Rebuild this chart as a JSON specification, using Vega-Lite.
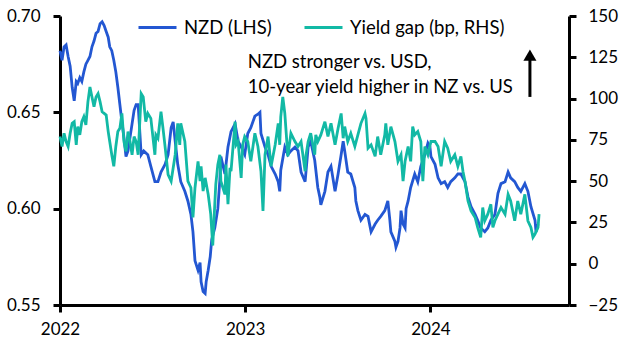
{
"$schema": "https://vega.github.io/schema/vega-lite/v6.json",
"width": 509, "height": 289,
"autosize": {"type": "none"},
"padding": {"left": 60, "top": 16, "right": 59, "bottom": 50},
"background": "white",
"config": {
  "view": {"stroke": null},
  "font": "Lato",
  "axis": {"grid": false, "domainColor": "black", "domainWidth": 3, "tickColor": "black", "tickWidth": 3, "tickSize": 7, "labelFontSize": 17, "labelColor": "black", "labelFont": "Lato", "title": null}
},
"datasets": {
"nzd": [
{"date":"2022-01-01","value":0.682},{"date":"2022-01-05","value":0.677},{"date":"2022-01-09","value":0.684},{"date":"2022-01-13","value":0.685},{"date":"2022-01-17","value":0.679},{"date":"2022-01-21","value":0.674},{"date":"2022-01-25","value":0.663},{"date":"2022-01-29","value":0.656},{"date":"2022-02-02","value":0.666},{"date":"2022-02-05","value":0.665},{"date":"2022-02-09","value":0.668},{"date":"2022-02-13","value":0.666},{"date":"2022-02-17","value":0.671},{"date":"2022-02-21","value":0.675},{"date":"2022-02-25","value":0.677},{"date":"2022-03-01","value":0.679},{"date":"2022-03-05","value":0.684},{"date":"2022-03-09","value":0.687},{"date":"2022-03-13","value":0.691},{"date":"2022-03-17","value":0.692},{"date":"2022-03-21","value":0.696},{"date":"2022-03-25","value":0.697},{"date":"2022-03-29","value":0.695},{"date":"2022-04-02","value":0.692},{"date":"2022-04-06","value":0.689},{"date":"2022-04-09","value":0.684},{"date":"2022-04-13","value":0.682},{"date":"2022-04-17","value":0.677},{"date":"2022-04-21","value":0.671},{"date":"2022-04-25","value":0.663},{"date":"2022-04-29","value":0.654},{"date":"2022-05-03","value":0.645},{"date":"2022-05-07","value":0.637},{"date":"2022-05-11","value":0.627},{"date":"2022-05-15","value":0.630},{"date":"2022-05-19","value":0.637},{"date":"2022-05-23","value":0.644},{"date":"2022-05-27","value":0.651},{"date":"2022-05-31","value":0.654},{"date":"2022-06-04","value":0.654},{"date":"2022-06-10","value":0.628},{"date":"2022-06-15","value":0.630},{"date":"2022-06-23","value":0.628},{"date":"2022-06-29","value":0.622},{"date":"2022-07-07","value":0.614},{"date":"2022-07-13","value":0.614},{"date":"2022-07-19","value":0.619},{"date":"2022-07-27","value":0.623},{"date":"2022-08-02","value":0.628},{"date":"2022-08-08","value":0.642},{"date":"2022-08-12","value":0.645},{"date":"2022-08-16","value":0.635},{"date":"2022-08-21","value":0.623},{"date":"2022-08-27","value":0.614},{"date":"2022-09-04","value":0.609},{"date":"2022-09-10","value":0.604},{"date":"2022-09-16","value":0.597},{"date":"2022-09-20","value":0.588},{"date":"2022-09-24","value":0.573},{"date":"2022-09-30","value":0.568},{"date":"2022-10-04","value":0.572},{"date":"2022-10-06","value":0.562},{"date":"2022-10-10","value":0.557},{"date":"2022-10-14","value":0.556},{"date":"2022-10-16","value":0.562},{"date":"2022-10-20","value":0.568},{"date":"2022-10-24","value":0.575},{"date":"2022-10-27","value":0.584},{"date":"2022-11-02","value":0.590},{"date":"2022-11-08","value":0.600},{"date":"2022-11-12","value":0.615},{"date":"2022-11-14","value":0.627},{"date":"2022-11-22","value":0.618},{"date":"2022-11-28","value":0.632},{"date":"2022-12-04","value":0.640},{"date":"2022-12-12","value":0.644},{"date":"2022-12-18","value":0.635},{"date":"2022-12-24","value":0.632},{"date":"2022-12-31","value":0.628},
{"date":"2023-01-06","value":0.639},{"date":"2023-01-12","value":0.642},{"date":"2023-01-20","value":0.648},{"date":"2023-01-26","value":0.649},{"date":"2023-01-30","value":0.650},{"date":"2023-02-01","value":0.639},{"date":"2023-02-09","value":0.632},{"date":"2023-02-15","value":0.628},{"date":"2023-02-21","value":0.622},{"date":"2023-03-01","value":0.618},{"date":"2023-03-07","value":0.614},{"date":"2023-03-10","value":0.609},{"date":"2023-03-12","value":0.620},{"date":"2023-03-20","value":0.632},{"date":"2023-03-26","value":0.628},{"date":"2023-04-01","value":0.630},{"date":"2023-04-09","value":0.632},{"date":"2023-04-15","value":0.630},{"date":"2023-04-21","value":0.619},{"date":"2023-04-29","value":0.614},{"date":"2023-05-05","value":0.632},{"date":"2023-05-10","value":0.635},{"date":"2023-05-18","value":0.625},{"date":"2023-05-24","value":0.611},{"date":"2023-05-28","value":0.606},{"date":"2023-05-30","value":0.602},{"date":"2023-06-07","value":0.609},{"date":"2023-06-13","value":0.619},{"date":"2023-06-19","value":0.622},{"date":"2023-06-27","value":0.609},{"date":"2023-07-03","value":0.618},{"date":"2023-07-09","value":0.628},{"date":"2023-07-13","value":0.635},{"date":"2023-07-16","value":0.630},{"date":"2023-07-22","value":0.619},{"date":"2023-07-28","value":0.618},{"date":"2023-08-05","value":0.611},{"date":"2023-08-07","value":0.604},{"date":"2023-08-11","value":0.599},{"date":"2023-08-17","value":0.594},{"date":"2023-08-25","value":0.597},{"date":"2023-08-31","value":0.596},{"date":"2023-09-06","value":0.588},{"date":"2023-09-14","value":0.592},{"date":"2023-09-19","value":0.594},{"date":"2023-09-25","value":0.596},{"date":"2023-10-03","value":0.599},{"date":"2023-10-09","value":0.604},{"date":"2023-10-13","value":0.594},{"date":"2023-10-15","value":0.588},{"date":"2023-10-23","value":0.583},{"date":"2023-10-25","value":0.580},{"date":"2023-10-29","value":0.583},{"date":"2023-11-02","value":0.590},{"date":"2023-11-04","value":0.599},{"date":"2023-11-08","value":0.592},{"date":"2023-11-12","value":0.590},{"date":"2023-11-14","value":0.600},{"date":"2023-11-18","value":0.604},{"date":"2023-11-23","value":0.611},{"date":"2023-12-01","value":0.618},{"date":"2023-12-07","value":0.614},{"date":"2023-12-13","value":0.622},{"date":"2023-12-21","value":0.628},{"date":"2023-12-27","value":0.634},{"date":"2023-12-31","value":0.632},
{"date":"2024-01-02","value":0.627},{"date":"2024-01-10","value":0.623},{"date":"2024-01-16","value":0.616},{"date":"2024-01-22","value":0.613},{"date":"2024-01-29","value":0.614},{"date":"2024-02-04","value":0.611},{"date":"2024-02-10","value":0.614},{"date":"2024-02-18","value":0.616},{"date":"2024-02-24","value":0.618},{"date":"2024-03-01","value":0.618},{"date":"2024-03-09","value":0.614},{"date":"2024-03-15","value":0.606},{"date":"2024-03-21","value":0.601},{"date":"2024-03-29","value":0.597},{"date":"2024-04-03","value":0.594},{"date":"2024-04-09","value":0.590},{"date":"2024-04-17","value":0.588},{"date":"2024-04-23","value":0.590},{"date":"2024-04-29","value":0.594},{"date":"2024-05-07","value":0.597},{"date":"2024-05-13","value":0.608},{"date":"2024-05-19","value":0.613},{"date":"2024-05-27","value":0.614},{"date":"2024-06-02","value":0.619},{"date":"2024-06-07","value":0.616},{"date":"2024-06-15","value":0.614},{"date":"2024-06-21","value":0.611},{"date":"2024-06-27","value":0.609},{"date":"2024-07-05","value":0.613},{"date":"2024-07-11","value":0.609},{"date":"2024-07-17","value":0.601},{"date":"2024-07-25","value":0.594},{"date":"2024-07-27","value":0.588},{"date":"2024-07-31","value":0.592}
],
"gap": [
{"date":"2022-01-01","value":77},{"date":"2022-01-05","value":71},{"date":"2022-01-09","value":79},{"date":"2022-01-13","value":74},{"date":"2022-01-17","value":71},{"date":"2022-01-21","value":79},{"date":"2022-01-25","value":85},{"date":"2022-01-29","value":86},{"date":"2022-02-02","value":72},{"date":"2022-02-05","value":83},{"date":"2022-02-09","value":78},{"date":"2022-02-13","value":86},{"date":"2022-02-17","value":89},{"date":"2022-02-21","value":84},{"date":"2022-02-25","value":98},{"date":"2022-03-01","value":107},{"date":"2022-03-05","value":101},{"date":"2022-03-09","value":95},{"date":"2022-03-13","value":101},{"date":"2022-03-17","value":103},{"date":"2022-03-21","value":98},{"date":"2022-03-25","value":92},{"date":"2022-03-29","value":91},{"date":"2022-04-02","value":90},{"date":"2022-04-06","value":80},{"date":"2022-04-09","value":74},{"date":"2022-04-13","value":66},{"date":"2022-04-17","value":59},{"date":"2022-04-21","value":71},{"date":"2022-04-25","value":80},{"date":"2022-04-29","value":82},{"date":"2022-05-03","value":91},{"date":"2022-05-07","value":74},{"date":"2022-05-11","value":68},{"date":"2022-05-15","value":80},{"date":"2022-05-19","value":74},{"date":"2022-05-23","value":66},{"date":"2022-05-27","value":77},{"date":"2022-05-31","value":74},{"date":"2022-06-04","value":66},{"date":"2022-06-10","value":103},{"date":"2022-06-14","value":101},{"date":"2022-06-15","value":98},{"date":"2022-06-19","value":86},{"date":"2022-06-23","value":91},{"date":"2022-06-29","value":88},{"date":"2022-07-07","value":66},{"date":"2022-07-09","value":78},{"date":"2022-07-13","value":76},{"date":"2022-07-19","value":92},{"date":"2022-07-23","value":82},{"date":"2022-07-27","value":71},{"date":"2022-08-02","value":54},{"date":"2022-08-08","value":50},{"date":"2022-08-16","value":66},{"date":"2022-08-21","value":85},{"date":"2022-08-25","value":72},{"date":"2022-08-27","value":85},{"date":"2022-09-04","value":74},{"date":"2022-09-10","value":50},{"date":"2022-09-16","value":46},{"date":"2022-09-20","value":28},{"date":"2022-09-24","value":46},{"date":"2022-09-30","value":62},{"date":"2022-10-04","value":50},{"date":"2022-10-06","value":59},{"date":"2022-10-10","value":44},{"date":"2022-10-14","value":52},{"date":"2022-10-20","value":42},{"date":"2022-10-25","value":30},{"date":"2022-10-29","value":11},{"date":"2022-11-02","value":36},{"date":"2022-11-04","value":48},{"date":"2022-11-08","value":60},{"date":"2022-11-12","value":66},{"date":"2022-11-14","value":50},{"date":"2022-11-22","value":42},{"date":"2022-11-24","value":60},{"date":"2022-11-28","value":36},{"date":"2022-12-02","value":58},{"date":"2022-12-04","value":56},{"date":"2022-12-12","value":86},{"date":"2022-12-14","value":72},{"date":"2022-12-18","value":74},{"date":"2022-12-24","value":52},{"date":"2022-12-27","value":72},{"date":"2022-12-31","value":77},
{"date":"2023-01-06","value":74},{"date":"2023-01-12","value":62},{"date":"2023-01-20","value":79},{"date":"2023-01-26","value":71},{"date":"2023-02-01","value":56},{"date":"2023-02-05","value":32},{"date":"2023-02-09","value":66},{"date":"2023-02-15","value":77},{"date":"2023-02-21","value":59},{"date":"2023-03-01","value":72},{"date":"2023-03-07","value":85},{"date":"2023-03-10","value":72},{"date":"2023-03-12","value":89},{"date":"2023-03-16","value":101},{"date":"2023-03-20","value":91},{"date":"2023-03-26","value":65},{"date":"2023-04-01","value":79},{"date":"2023-04-09","value":74},{"date":"2023-04-15","value":71},{"date":"2023-04-21","value":74},{"date":"2023-04-29","value":56},{"date":"2023-05-01","value":66},{"date":"2023-05-05","value":74},{"date":"2023-05-10","value":79},{"date":"2023-05-18","value":66},{"date":"2023-05-20","value":78},{"date":"2023-05-24","value":74},{"date":"2023-05-30","value":78},{"date":"2023-06-07","value":86},{"date":"2023-06-13","value":77},{"date":"2023-06-19","value":85},{"date":"2023-06-27","value":72},{"date":"2023-07-03","value":82},{"date":"2023-07-09","value":91},{"date":"2023-07-13","value":76},{"date":"2023-07-16","value":83},{"date":"2023-07-22","value":74},{"date":"2023-07-28","value":79},{"date":"2023-08-05","value":71},{"date":"2023-08-11","value":78},{"date":"2023-08-17","value":85},{"date":"2023-08-25","value":91},{"date":"2023-08-27","value":88},{"date":"2023-08-31","value":70},{"date":"2023-09-06","value":72},{"date":"2023-09-14","value":65},{"date":"2023-09-19","value":77},{"date":"2023-09-25","value":66},{"date":"2023-10-03","value":78},{"date":"2023-10-05","value":85},{"date":"2023-10-09","value":72},{"date":"2023-10-15","value":83},{"date":"2023-10-23","value":74},{"date":"2023-10-29","value":62},{"date":"2023-11-04","value":66},{"date":"2023-11-08","value":50},{"date":"2023-11-12","value":62},{"date":"2023-11-18","value":71},{"date":"2023-11-23","value":62},{"date":"2023-11-27","value":83},{"date":"2023-12-01","value":78},{"date":"2023-12-07","value":80},{"date":"2023-12-13","value":74},{"date":"2023-12-17","value":50},{"date":"2023-12-21","value":71},{"date":"2023-12-27","value":66},
{"date":"2024-01-02","value":74},{"date":"2024-01-10","value":74},{"date":"2024-01-16","value":71},{"date":"2024-01-22","value":59},{"date":"2024-01-29","value":74},{"date":"2024-02-04","value":70},{"date":"2024-02-10","value":62},{"date":"2024-02-18","value":66},{"date":"2024-02-24","value":59},{"date":"2024-03-01","value":65},{"date":"2024-03-05","value":56},{"date":"2024-03-09","value":50},{"date":"2024-03-11","value":46},{"date":"2024-03-15","value":38},{"date":"2024-03-21","value":32},{"date":"2024-03-29","value":28},{"date":"2024-04-03","value":22},{"date":"2024-04-09","value":16},{"date":"2024-04-13","value":34},{"date":"2024-04-17","value":26},{"date":"2024-04-23","value":30},{"date":"2024-04-29","value":36},{"date":"2024-05-03","value":22},{"date":"2024-05-07","value":26},{"date":"2024-05-13","value":30},{"date":"2024-05-19","value":34},{"date":"2024-05-27","value":30},{"date":"2024-06-02","value":42},{"date":"2024-06-07","value":38},{"date":"2024-06-15","value":26},{"date":"2024-06-21","value":38},{"date":"2024-06-27","value":30},{"date":"2024-07-05","value":42},{"date":"2024-07-11","value":26},{"date":"2024-07-17","value":22},{"date":"2024-07-21","value":16},{"date":"2024-07-25","value":18},{"date":"2024-07-31","value":22},{"date":"2024-08-02","value":30}
]
},
"layer": [
  {"layer": [
    {"data": {"name": "nzd"},
     "mark": {"type": "line", "strokeWidth": 2.8},
     "encoding": {
       "x": {"field": "date", "type": "temporal",
             "scale": {"type": "utc", "domain": [{"year": 2022, "month": 1, "date": 1, "utc": true}, {"year": 2024, "month": 9, "date": 30, "utc": true}]},
             "axis": {"values": [{"year": 2022, "month": 1, "date": 1, "utc": true}, {"year": 2023, "month": 1, "date": 1, "utc": true}, {"year": 2024, "month": 1, "date": 1, "utc": true}], "format": "%Y", "formatType": "utc", "labelFlush": false, "labelPadding": 9, "tickSize": 7}},
       "y": {"field": "value", "type": "quantitative",
             "scale": {"domain": [0.55, 0.70], "zero": false, "nice": false},
             "axis": {"orient": "left", "values": [0.55, 0.60, 0.65, 0.70], "format": ".2f", "labelPadding": 13, "tickSize": 7}},
       "color": {"datum": "NZD (LHS)",
                 "scale": {"domain": ["NZD (LHS)", "Yield gap (bp, RHS)"], "range": ["#2357d2", "#12b9a5"]},
                 "legend": {"orient": "none", "legendX": 77, "legendY": -9, "direction": "horizontal", "title": null, "symbolType": "stroke", "symbolSize": 1444, "symbolStrokeWidth": 3, "labelFontSize": 18.5, "labelFont": "Lato", "labelColor": "black", "labelOffset": 6, "columnPadding": 26, "labelLimit": 300}}
     }},
    {"data": {"values": [{}]},
     "mark": {"type": "text", "text": ["NZD stronger vs. USD,", "10-year yield higher in NZ vs. US"], "align": "left", "baseline": "alphabetic", "fontSize": 18.5, "font": "Lato", "color": "black", "lineHeight": 25},
     "encoding": {
       "x": {"datum": {"year": 2023, "month": 1, "date": 6, "utc": true}, "type": "temporal"},
       "y": {"datum": 0.673, "type": "quantitative"}
     }},
    {"data": {"values": [{}]},
     "mark": {"type": "rule", "strokeWidth": 3, "color": "black"},
     "encoding": {
       "x": {"datum": {"year": 2024, "month": 7, "date": 15, "utc": true}, "type": "temporal"},
       "y": {"datum": 0.658, "type": "quantitative"},
       "y2": {"datum": 0.678}
     }},
    {"data": {"values": [{}]},
     "mark": {"type": "point", "shape": "triangle-up", "size": 170, "filled": true, "color": "black", "opacity": 1},
     "encoding": {
       "x": {"datum": {"year": 2024, "month": 7, "date": 15, "utc": true}, "type": "temporal"},
       "y": {"datum": 0.6797, "type": "quantitative"}
     }}
  ]},
  {"data": {"name": "gap"},
   "mark": {"type": "line", "strokeWidth": 2.8},
   "encoding": {
     "x": {"field": "date", "type": "temporal"},
     "y": {"field": "value", "type": "quantitative",
           "scale": {"domain": [-25, 150], "zero": false, "nice": false},
           "axis": {"orient": "right", "values": [-25, 0, 25, 50, 75, 100, 125, 150], "labelPadding": 12, "tickSize": 7}},
     "color": {"datum": "Yield gap (bp, RHS)"}
   }}
],
"resolve": {"scale": {"y": "independent"}}
}
